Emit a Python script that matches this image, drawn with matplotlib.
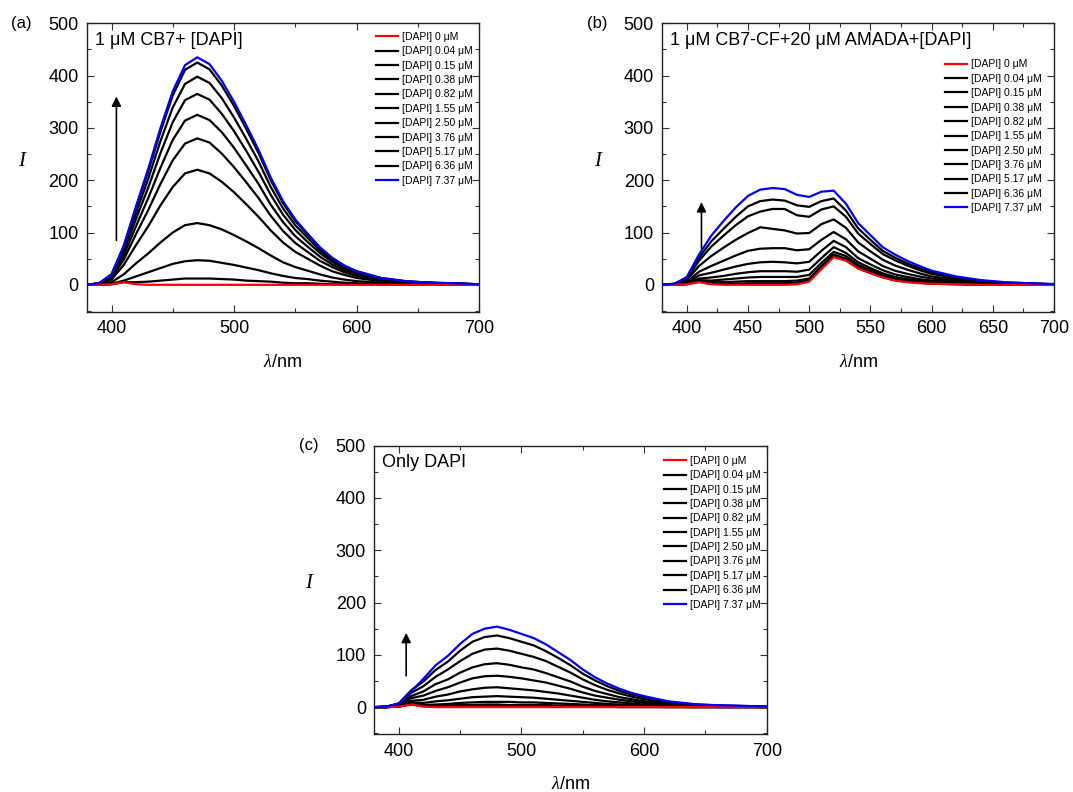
import matplotlib
matplotlib.use('Agg')
import matplotlib.pyplot as plt
from matplotlib.ticker import MultipleLocator

plt.rcParams['font.family'] = ['Liberation Sans', 'DejaVu Sans']
plt.rcParams['mathtext.fontset'] = 'custom'
plt.rcParams['mathtext.it'] = 'Liberation Serif:italic'
plt.rcParams['mathtext.rm'] = 'Liberation Sans'

wl = [380, 390, 400, 410, 420, 430, 440, 450, 460, 470, 480, 490, 500, 510,
      520, 530, 540, 550, 560, 570, 580, 590, 600, 620, 640, 660, 680, 700]

conc = ['0', '0.04', '0.15', '0.38', '0.82', '1.55', '2.50', '3.76', '5.17', '6.36', '7.37']

# (a) 1 uM CB7 + DAPI
a_0 = [0, 0, 1, 5, 1, 0, 0, 0, 0, 0, 0, 0, 0, 0, 0, 0, 0, 0, 0, 0, 0, 0, 0, 0, 0, 0, 0, 0]
a_004 = [0, 0, 1, 5, 5, 6, 8, 10, 12, 12, 12, 11, 10, 8, 7, 6, 4, 3, 3, 2, 1, 1, 1, 0, 0, 0, 0, 0]
a_015 = [0, 0, 2, 8, 16, 24, 32, 40, 45, 47, 46, 42, 38, 33, 28, 22, 17, 13, 11, 8, 6, 4, 3, 1, 1, 0, 0, 0]
a_038 = [0, 1, 5, 20, 41, 60, 81, 100, 114, 118, 114, 106, 95, 83, 70, 56, 43, 34, 27, 20, 14, 10, 7, 4, 2, 1, 1, 0]
a_082 = [0, 2, 10, 38, 76, 112, 152, 187, 213, 220, 213, 197, 177, 154, 130, 104, 81, 63, 50, 37, 26, 19, 13, 7, 4, 2, 1, 0]
a_155 = [0, 2, 13, 48, 97, 143, 193, 238, 270, 280, 272, 251, 225, 196, 166, 132, 103, 80, 63, 46, 34, 24, 17, 8, 4, 3, 2, 1]
a_250 = [0, 2, 15, 56, 112, 166, 224, 277, 314, 325, 315, 292, 262, 228, 193, 153, 120, 93, 73, 54, 39, 28, 20, 10, 5, 3, 2, 1]
a_376 = [0, 3, 17, 63, 126, 186, 252, 311, 353, 365, 354, 327, 294, 256, 216, 172, 134, 105, 82, 61, 44, 31, 22, 11, 6, 4, 2, 1]
a_517 = [0, 3, 18, 68, 137, 203, 275, 339, 384, 398, 386, 357, 320, 279, 236, 187, 146, 114, 90, 66, 48, 34, 24, 12, 6, 4, 2, 1]
a_636 = [0, 3, 20, 73, 147, 217, 293, 362, 411, 425, 412, 381, 342, 298, 252, 200, 156, 122, 96, 71, 51, 36, 26, 13, 7, 4, 3, 1]
a_737 = [0, 3, 20, 75, 150, 222, 300, 370, 420, 435, 422, 390, 350, 305, 258, 205, 160, 125, 98, 72, 52, 37, 26, 13, 7, 4, 3, 1]

# (b) 1 uM CB7-CF + 20 uM AMADA + DAPI
b_0 = [0, 0, 1, 5, 1, 0, 0, 0, 0, 0, 0, 1, 6, 30, 53, 46, 31, 22, 14, 8, 5, 3, 2, 1, 0, 0, 0, 0]
b_004 = [0, 0, 1, 6, 2, 2, 2, 3, 3, 3, 3, 4, 9, 32, 55, 48, 32, 23, 15, 9, 6, 4, 2, 1, 0, 0, 0, 0]
b_015 = [0, 0, 2, 7, 5, 5, 6, 7, 7, 7, 7, 8, 12, 36, 58, 50, 34, 25, 16, 10, 7, 4, 3, 2, 0, 0, 0, 0]
b_038 = [0, 0, 2, 9, 8, 10, 12, 14, 15, 15, 15, 15, 19, 42, 63, 55, 38, 28, 19, 12, 8, 6, 4, 2, 1, 0, 0, 0]
b_082 = [0, 0, 3, 12, 14, 17, 21, 24, 26, 26, 26, 25, 29, 51, 72, 61, 43, 32, 22, 15, 11, 8, 6, 3, 1, 1, 0, 0]
b_155 = [0, 0, 4, 18, 23, 29, 35, 40, 43, 44, 43, 41, 44, 65, 84, 72, 51, 39, 28, 20, 15, 11, 8, 5, 2, 1, 1, 0]
b_250 = [0, 1, 6, 25, 36, 46, 56, 65, 69, 70, 70, 66, 68, 86, 101, 87, 64, 50, 36, 27, 21, 16, 12, 7, 3, 2, 1, 1]
b_376 = [0, 1, 9, 36, 55, 71, 86, 99, 110, 107, 104, 98, 99, 116, 125, 109, 81, 64, 48, 37, 29, 22, 16, 10, 5, 3, 2, 1]
b_517 = [0, 2, 12, 46, 73, 94, 114, 131, 140, 145, 145, 133, 130, 144, 150, 130, 98, 78, 59, 47, 37, 28, 21, 13, 7, 4, 2, 1]
b_636 = [0, 2, 13, 52, 83, 107, 130, 150, 160, 163, 161, 152, 149, 160, 165, 142, 108, 86, 65, 52, 41, 32, 24, 14, 8, 4, 3, 1]
b_737 = [0, 2, 15, 58, 94, 122, 148, 170, 182, 185, 183, 172, 168, 178, 180, 155, 118, 95, 72, 58, 46, 36, 27, 16, 9, 5, 3, 1.5]

# (c) only DAPI
c_0 = [0, 0, 1, 5, 1, 0, 0, 0, 0, 0, 0, 0, 0, 0, 0, 0, 0, 0, 0, 0, 0, 0, 0, 0, 0, 0, 0, 0]
c_004 = [0, 0, 1, 5, 2, 1, 1, 1, 2, 2, 2, 2, 2, 2, 1, 1, 1, 1, 1, 1, 0, 0, 0, 0, 0, 0, 0, 0]
c_015 = [0, 0, 1, 6, 3, 2, 3, 4, 4, 5, 5, 4, 4, 4, 4, 3, 3, 2, 2, 1, 1, 1, 1, 0, 0, 0, 0, 0]
c_038 = [0, 0, 1, 7, 4, 5, 6, 8, 9, 10, 10, 10, 9, 9, 8, 7, 6, 5, 4, 3, 2, 2, 1, 1, 0, 0, 0, 0]
c_082 = [0, 0, 2, 9, 8, 11, 13, 16, 19, 20, 21, 20, 19, 18, 16, 14, 12, 10, 8, 6, 5, 4, 3, 1, 1, 0, 0, 0]
c_155 = [0, 0, 3, 12, 14, 20, 24, 30, 34, 37, 38, 36, 34, 32, 29, 26, 22, 18, 14, 11, 9, 7, 5, 3, 1, 1, 1, 0]
c_250 = [0, 0, 4, 17, 22, 31, 38, 47, 55, 59, 60, 58, 55, 51, 47, 41, 35, 28, 22, 18, 14, 11, 8, 4, 2, 1, 1, 0]
c_376 = [0, 1, 5, 21, 30, 44, 53, 66, 76, 82, 84, 81, 76, 72, 65, 57, 49, 39, 31, 25, 19, 15, 11, 6, 3, 2, 1, 1]
c_517 = [0, 1, 6, 27, 40, 58, 72, 88, 102, 110, 112, 108, 102, 96, 88, 77, 66, 53, 42, 33, 26, 20, 15, 8, 4, 3, 2, 1]
c_636 = [0, 1, 7, 32, 49, 71, 87, 108, 125, 134, 137, 132, 125, 118, 107, 94, 80, 64, 51, 40, 31, 24, 19, 10, 5, 3, 2, 1]
c_737 = [0, 1, 7, 30, 54, 80, 98, 121, 140, 150, 154, 148, 140, 132, 120, 105, 90, 72, 57, 45, 35, 27, 21, 11, 6, 3.5, 2.5, 1]

data_a = [a_0, a_004, a_015, a_038, a_082, a_155, a_250, a_376, a_517, a_636, a_737]
data_b = [b_0, b_004, b_015, b_038, b_082, b_155, b_250, b_376, b_517, b_636, b_737]
data_c = [c_0, c_004, c_015, c_038, c_082, c_155, c_250, c_376, c_517, c_636, c_737]

colors = ['#ff0000'] + ['#000000'] * 9 + ['#0000ff']

W, H = 1073, 792
fig = plt.figure(figsize=(W / 100, H / 100), dpi=100)


def px_axes(left, top, right, bottom):
    return fig.add_axes([left / W, 1 - bottom / H, (right - left) / W, (bottom - top) / H])


def panel(ax, data, letter, note, arrow, xmajor, xminor, leg_anchor):
    for i, ys in enumerate(data):
        ax.plot(wl, ys, color=colors[i], lw=1.6, label='[DAPI] %s \u03bcM' % conc[i],
                zorder=3 if i in (0, 10) else 2)
    ax.set_xlim(380, 700)
    ax.set_ylim(-52, 500)
    ax.xaxis.set_major_locator(MultipleLocator(xmajor))
    ax.xaxis.set_minor_locator(MultipleLocator(xminor))
    ax.yaxis.set_major_locator(MultipleLocator(100))
    ax.yaxis.set_minor_locator(MultipleLocator(50))
    ax.tick_params(which='both', direction='in', top=True, right=True,
                   labelsize=13, width=0.8, color='#333333', pad=6)
    ax.tick_params(which='major', length=5)
    ax.tick_params(which='minor', length=3)
    for s in ax.spines.values():
        s.set_linewidth(1.0)
        s.set_color('#222222')
    ax.text(0.02, 0.941, note, transform=ax.transAxes, fontsize=13, va='center', ha='left')
    ax.text(-0.167, 1.0, letter, transform=ax.transAxes, fontsize=12, va='center', ha='center')
    ax.text(-0.163, 0.526, r'$I$', transform=ax.transAxes, fontsize=15, va='center', ha='center')
    ax.text(0.5, -0.175, r'$\lambda$/nm', transform=ax.transAxes, fontsize=13, va='center', ha='center')
    ax.annotate('', xy=(arrow[0], arrow[2]), xytext=(arrow[0], arrow[1]),
                arrowprops=dict(arrowstyle='-|>', color='black', lw=1.2,
                                mutation_scale=14, shrinkA=0, shrinkB=0))
    ax.legend(loc='upper right', bbox_to_anchor=leg_anchor, frameon=False, fontsize=7.5,
              handlelength=2.1, handletextpad=0.4, labelspacing=0.42, borderaxespad=0,
              borderpad=0)


ax_a = px_axes(87, 23.3, 479, 312)
panel(ax_a, data_a, '(a)', '1 \u03bcM CB7+ [DAPI]', (404, 85, 360), 100, 50, (0.985, 0.97))

ax_b = px_axes(662.3, 23.3, 1054, 312)
panel(ax_b, data_b, '(b)', '1 \u03bcM CB7-CF+20 \u03bcM AMADA+[DAPI]', (412, 70, 158), 50, 25, (0.97, 0.875))

ax_c = px_axes(374.3, 445.7, 766.7, 734.3)
panel(ax_c, data_c, '(c)', 'Only DAPI', (406, 60, 142), 100, 50, (0.985, 0.965))

fig.savefig('out.png', dpi=100)
